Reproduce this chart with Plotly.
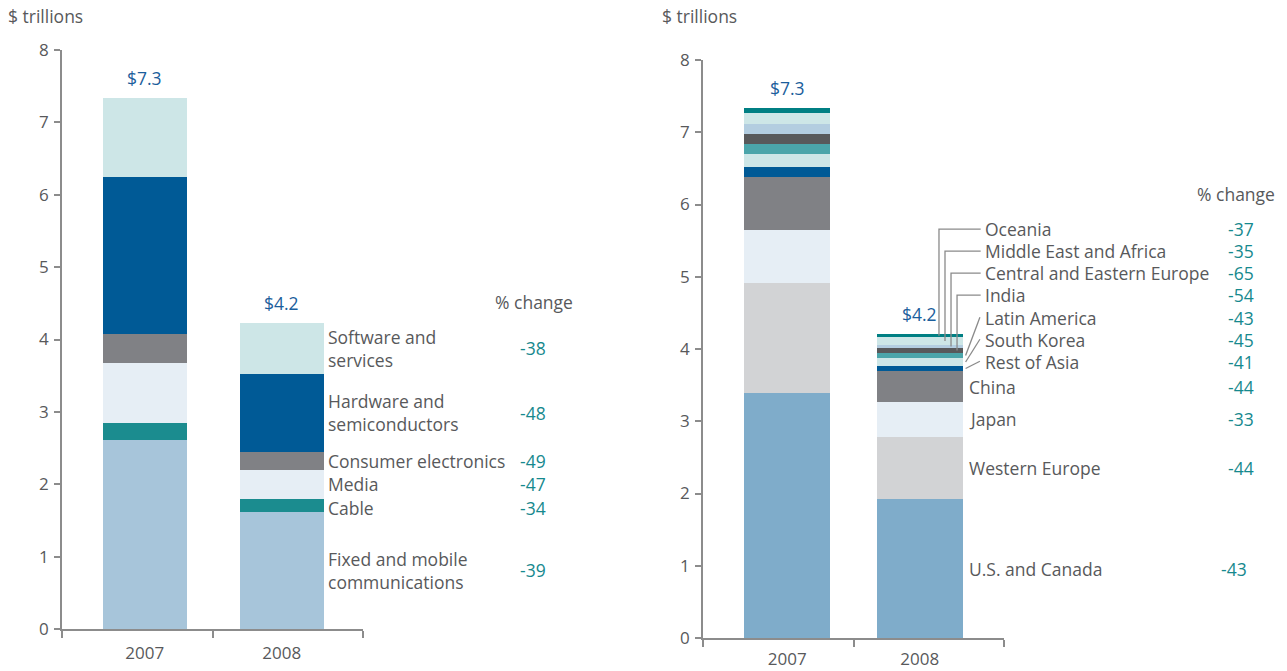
import plotly.graph_objects as go

# ---------------- data ----------------
years = ["2007", "2008"]

# Left panel: by industry segment ($ trillions), bottom to top
segments = ["Fixed and mobile<br>communications", "Cable", "Media",
            "Consumer electronics", "Hardware and<br>semiconductors",
            "Software and<br>services"]
seg_2007 = [2.61, 0.24, 0.82, 0.41, 2.17, 1.09]
seg_2008 = [1.62, 0.17, 0.41, 0.25, 1.08, 0.70]
seg_change = ["-39", "-34", "-47", "-49", "-48", "-38"]

# Right panel: by region ($ trillions), bottom to top
regions = ["U.S. and Canada", "Western Europe", "Japan", "China",
           "Rest of Asia", "South Korea", "Latin America", "India",
           "Central and Eastern Europe", "Middle East and Africa", "Oceania"]
reg_2007 = [3.39, 1.53, 0.73, 0.73, 0.14, 0.18, 0.14, 0.14, 0.14, 0.15, 0.07]
reg_2008 = [1.92, 0.86, 0.49, 0.42, 0.08, 0.10, 0.08, 0.06, 0.05, 0.10, 0.045]
reg_change = ["-43", "-44", "-33", "-44", "-41", "-45", "-43", "-54",
              "-65", "-35", "-37"]

# ---------------- styling ----------------
FONT = "Open Sans"
TXT = "#58595b"
TEAL_TXT = "#16898e"
BLUE_TXT = "#1b5e9c"
AXIS = "#8c8c8c"
FS = 17.5
TICK_FS = 17

seg_colors = ["#a7c5da", "#1b8c8f", "#e6eef5", "#808185", "#005a96", "#cde6e7"]
reg_colors = ["#7facca", "#d2d3d5", "#e6eef5", "#808185", "#005a96",
              "#cde6e7", "#4ba5aa", "#58595b", "#b3cde0", "#cde6e7", "#007f83"]

# small vertical nudges (px) keeping adjacent left-panel labels apart
seg_label_shift = [0, -2, 1, 0, 0, 0]

W, H = 1287, 671


def px_x(p):
    return p / W


def px_y(p):
    return 1 - p / H


# bar positions on a 0..2 linear x axis
left_pos = [0.55, 1.46]
left_w = 0.56
right_pos = [0.56, 1.44]
right_w = 0.57

fig = go.Figure()

for name, a, b, c in zip(segments, seg_2007, seg_2008, seg_colors):
    fig.add_trace(go.Bar(x=left_pos, y=[a, b], width=left_w, marker_color=c,
                         marker_line_width=0, name=name.replace("<br>", " "),
                         xaxis="x", yaxis="y", showlegend=False))

for name, a, b, c in zip(regions, reg_2007, reg_2008, reg_colors):
    fig.add_trace(go.Bar(x=right_pos, y=[a, b], width=right_w, marker_color=c,
                         marker_line_width=0, name=name,
                         xaxis="x2", yaxis="y2", showlegend=False))

annotations = []
shapes = []


def txt(text, x, y, xref, yref, xanchor="left", color=TXT, size=FS, **kw):
    annotations.append(dict(text=text, x=x, y=y, xref=xref, yref=yref,
                            xanchor=xanchor, yanchor=kw.pop("yanchor", "middle"),
                            showarrow=False, align="left",
                            font=dict(family=FONT, size=size, color=color), **kw))


# totals above the bars
for pos, vals in zip(left_pos, [seg_2007, seg_2008]):
    tot = sum(vals)
    txt(f"${tot:.1f}", pos, tot, "x", "y", xanchor="center", color=BLUE_TXT,
        yanchor="bottom", yshift=6)
for pos, vals in zip(right_pos, [reg_2007, reg_2008]):
    tot = sum(vals)
    txt(f"${tot:.1f}", pos, tot, "x2", "y2", xanchor="center", color=BLUE_TXT,
        yanchor="bottom", yshift=6)

# left panel segment labels next to the 2008 bar
cum = 0
for name, v, ch, sh in zip(segments, seg_2008, seg_change, seg_label_shift):
    mid = cum + v / 2
    cum += v
    txt(name, 1.755, mid, "x", "y", yshift=sh)
    txt(ch, px_x(548), mid, "paper", "y", xanchor="right", color=TEAL_TXT, yshift=sh)
txt("% change", px_x(575), px_y(302), "paper", "paper", xanchor="right")

# right panel labels
cum = 0
mids = []
for v in reg_2008:
    mids.append(cum + v / 2)
    cum += v

label_x_big = 1.757
label_x_small = 1.862
# stacked small-region labels, listed from the top (Oceania) downwards
small_label_y = [5.66, 5.355, 5.05, 4.745, 4.43, 4.125, 3.82]
small_idx = [10, 9, 8, 7, 6, 5, 4]
for i in range(4):
    idx = small_idx[i]
    ly = small_label_y[i]
    txt(regions[idx], label_x_small, ly, "x2", "y2")
    txt(reg_change[idx], px_x(1256), ly, "paper", "y2", xanchor="right", color=TEAL_TXT)

# elbow leader lines for the four thinnest top bands
elbow_x = [1.568, 1.608, 1.648, 1.688]
for i in range(4):
    idx = small_idx[i]
    ly = small_label_y[i]
    shapes.append(dict(type="path", xref="x2", yref="y2",
                       path=f"M {elbow_x[i]},{mids[idx]} L {elbow_x[i]},{ly} L 1.845,{ly}",
                       line=dict(color="#8a8a8a", width=1.3)))

# diagonal leaders for Latin America, South Korea, Rest of Asia
for i in range(4, 7):
    idx = small_idx[i]
    ly = small_label_y[i]
    txt(regions[idx], label_x_small, ly, "x2", "y2")
    txt(reg_change[idx], px_x(1256), ly, "paper", "y2", xanchor="right", color=TEAL_TXT)
    shapes.append(dict(type="line", xref="x2", yref="y2",
                       x0=1.745, y0=mids[idx], x1=1.84, y1=ly + 0.01,
                       line=dict(color="#8a8a8a", width=1.3)))

for idx in [3, 2, 1, 0]:
    txt(regions[idx], label_x_big, mids[idx], "x2", "y2")
    right_edge = 1256 if idx != 0 else 1249
    txt(reg_change[idx], px_x(right_edge), mids[idx], "paper", "y2",
        xanchor="right", color=TEAL_TXT)
txt("% change", px_x(1277), px_y(194), "paper", "paper", xanchor="right")

# unit captions
txt("$ trillions", px_x(6), px_y(16), "paper", "paper")
txt("$ trillions", px_x(660), px_y(16), "paper", "paper")

axis_common = dict(showgrid=False, zeroline=False, showline=True,
                   linecolor=AXIS, linewidth=1.5, automargin=False,
                   tickfont=dict(family=FONT, size=TICK_FS, color=TXT))

yaxis_common = dict(axis_common, range=[0, 8], tickvals=list(range(9)),
                    ticks="outside", ticklen=6, tickcolor=AXIS, tickwidth=1.5,
                    ticklabelstandoff=2)

xaxis_common = dict(axis_common, range=[0, 2], ticks="",
                    minor=dict(tickvals=[0, 1, 2], ticks="outside", ticklen=7,
                               tickcolor=AXIS, tickwidth=1.5))

fig.update_layout(
    width=W, height=H,
    margin=dict(l=0, r=0, t=0, b=0, autoexpand=False),
    paper_bgcolor="white", plot_bgcolor="white",
    barmode="stack", bargap=0,
    showlegend=False,
    xaxis=dict(xaxis_common, domain=[px_x(62), px_x(363)], anchor="y",
               tickvals=left_pos, ticktext=years, ticklabelstandoff=8),
    yaxis=dict(yaxis_common, domain=[px_y(629), px_y(50)], anchor="x"),
    xaxis2=dict(xaxis_common, domain=[px_x(703), px_x(1004)], anchor="y2",
                tickvals=right_pos, ticktext=years, ticklabelstandoff=5),
    yaxis2=dict(yaxis_common, domain=[px_y(638), px_y(60)], anchor="x2"),
    annotations=annotations,
    shapes=shapes,
    font=dict(family=FONT, color=TXT),
)

fig.write_html("out.html")
